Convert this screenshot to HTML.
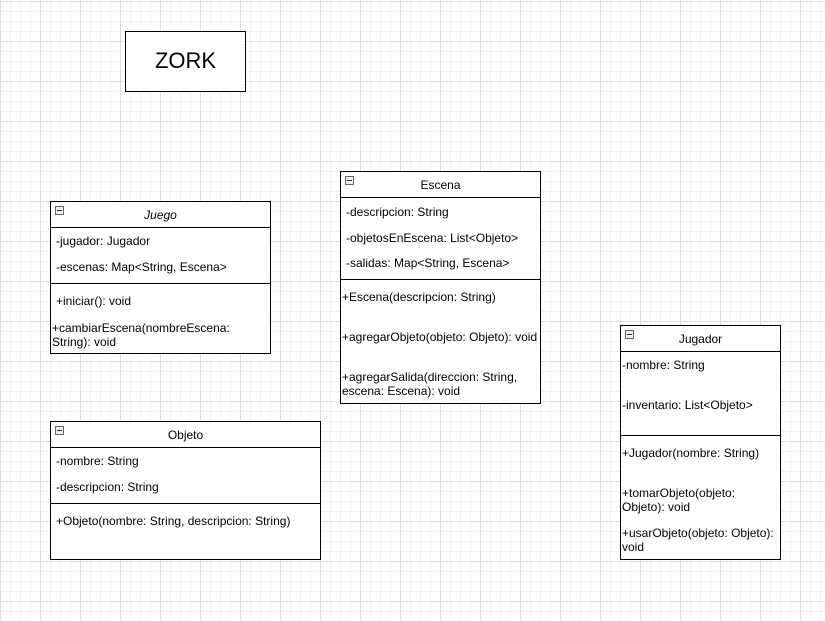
<!DOCTYPE html>
<html><head><meta charset="utf-8"><style>
body{margin:0;width:825px;height:621px;overflow:hidden;background:#fff;
background-image:linear-gradient(#dcdcdc 1px,transparent 1px),linear-gradient(90deg,#dcdcdc 1px,transparent 1px),linear-gradient(#f3f3f3 1px,transparent 1px),linear-gradient(90deg,#f3f3f3 1px,transparent 1px);
background-size:40px 40px,40px 40px,10px 10px,10px 10px;background-position:0 1px,0 0,0 1px,0 0;
font-family:"Liberation Sans",sans-serif;font-size:12px;color:#000;position:relative}
.b{position:absolute;border:1px solid #000;background:#fff;box-sizing:border-box}
.h{position:absolute;height:1px;background:#000}
.t{position:absolute;line-height:14px;white-space:nowrap;margin-top:1px}
.m{position:absolute;width:7px;height:7px;border:1px solid #666;background:#eee}
.m:after{content:"";position:absolute;left:1px;top:3px;width:5px;height:1px;background:#333}
</style></head><body>
<div class="b" style="left:125px;top:31px;width:121px;height:61px"></div>
<div class="t" style="left:125px;width:121px;text-align:center;top:48px;font-size:22px;line-height:24px">ZORK</div>

<div class="b" style="left:50px;top:201px;width:221px;height:153px"></div>
<div class="h" style="left:50px;top:227px;width:221px"></div>
<div class="h" style="left:50px;top:283px;width:221px"></div>
<div class="m" style="left:55px;top:206px"></div>
<div class="t" style="left:50px;width:221px;text-align:center;top:207px;font-style:italic">Juego</div>
<div class="t" style="left:56px;top:233px">-jugador: Jugador</div>
<div class="t" style="left:56px;top:259px">-escenas: Map&lt;String, Escena&gt;</div>
<div class="t" style="left:56px;top:293px">+iniciar(): void</div>
<div class="t" style="left:52px;top:320px">+cambiarEscena(nombreEscena:<br>String): void</div>

<div class="b" style="left:340px;top:171px;width:201px;height:233px"></div>
<div class="h" style="left:340px;top:197px;width:201px"></div>
<div class="h" style="left:340px;top:279px;width:201px"></div>
<div class="m" style="left:345px;top:176px"></div>
<div class="t" style="left:340px;width:201px;text-align:center;top:177px">Escena</div>
<div class="t" style="left:346px;top:204px">-descripcion: String</div>
<div class="t" style="left:346px;top:230px">-objetosEnEscena: List&lt;Objeto&gt;</div>
<div class="t" style="left:346px;top:255px">-salidas: Map&lt;String, Escena&gt;</div>
<div class="t" style="left:342px;top:289px">+Escena(descripcion: String)</div>
<div class="t" style="left:342px;top:329px">+agregarObjeto(objeto: Objeto): void</div>
<div class="t" style="left:342px;top:369px">+agregarSalida(direccion: String,<br>escena: Escena): void</div>

<div class="b" style="left:620px;top:325px;width:161px;height:235px"></div>
<div class="h" style="left:620px;top:351px;width:161px"></div>
<div class="h" style="left:620px;top:435px;width:161px"></div>
<div class="m" style="left:625px;top:330px"></div>
<div class="t" style="left:620px;width:161px;text-align:center;top:331px">Jugador</div>
<div class="t" style="left:622px;top:357px">-nombre: String</div>
<div class="t" style="left:622px;top:397px">-inventario: List&lt;Objeto&gt;</div>
<div class="t" style="left:622px;top:445px">+Jugador(nombre: String)</div>
<div class="t" style="left:622px;top:485px">+tomarObjeto(objeto:<br>Objeto): void</div>
<div class="t" style="left:622px;top:525px">+usarObjeto(objeto: Objeto):<br>void</div>

<div class="b" style="left:50px;top:421px;width:271px;height:139px"></div>
<div class="h" style="left:50px;top:447px;width:271px"></div>
<div class="h" style="left:50px;top:503px;width:271px"></div>
<div class="m" style="left:55px;top:426px"></div>
<div class="t" style="left:50px;width:271px;text-align:center;top:427px">Objeto</div>
<div class="t" style="left:56px;top:453px">-nombre: String</div>
<div class="t" style="left:56px;top:479px">-descripcion: String</div>
<div class="t" style="left:56px;top:513px">+Objeto(nombre: String, descripcion: String)</div>
</body></html>
